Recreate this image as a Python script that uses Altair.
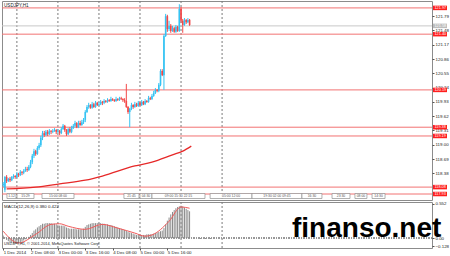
import altair as alt
import pandas as pd

# ---------------- data ----------------
bar_index = list(range(110))
opens = [118.13, 118.02, 118.30, 118.21, 118.26, 118.23, 118.30, 118.32, 118.30, 118.36,
         118.34, 118.41, 118.39, 118.43, 118.47, 118.45, 118.52, 118.62, 118.76, 118.86,
         118.80, 118.93, 118.99, 119.15, 119.25, 119.21, 119.28, 119.23, 119.30, 119.28,
         119.30, 119.32, 119.28, 119.30, 119.25, 119.34, 119.41, 119.32, 119.23, 119.34,
         119.28, 119.36, 119.41, 119.47, 119.38, 119.47, 119.43, 119.49, 119.54, 119.71,
         119.82, 119.86, 119.80, 119.88, 119.82, 119.91, 119.86, 119.88, 119.93, 119.91,
         119.95, 119.93, 119.97, 119.95, 119.99, 119.97, 119.95, 119.99, 119.97, 120.01,
         119.99, 119.97, 119.95, 119.82, 119.71, 119.78, 119.86, 119.82, 119.88, 119.84,
         119.91, 119.86, 119.93, 119.88, 119.95, 119.93, 120.01, 119.99, 120.06, 120.12,
         120.19, 120.17, 120.30, 120.60, 120.51, 121.36, 121.79, 121.51, 121.58, 121.47,
         121.53, 121.45, 121.56, 121.47, 121.95, 121.69, 121.60, 121.71, 121.66, 121.71]
highs = [118.19, 118.32, 118.34, 118.28, 118.30, 118.32, 118.36, 118.34, 118.41, 118.39,
         118.45, 118.43, 118.47, 118.52, 118.52, 118.56, 118.67, 118.80, 118.91, 118.89,
         118.97, 119.04, 119.19, 119.30, 119.30, 119.32, 119.32, 119.34, 119.32, 119.34,
         119.36, 119.34, 119.34, 119.32, 119.38, 119.45, 119.43, 119.34, 119.36, 119.38,
         119.41, 119.45, 119.52, 119.49, 119.52, 119.52, 119.54, 119.58, 119.75, 119.86,
         119.91, 119.88, 119.93, 119.91, 119.95, 119.93, 119.93, 119.97, 119.95, 119.99,
         119.97, 120.01, 119.99, 120.04, 120.01, 119.99, 120.04, 120.01, 120.04, 120.04,
         120.01, 120.01, 120.32, 119.84, 119.80, 119.91, 119.88, 119.93, 119.91, 119.95,
         119.93, 119.97, 119.95, 119.99, 119.97, 120.06, 120.04, 120.10, 120.17, 120.23,
         120.21, 120.34, 120.64, 120.64, 121.40, 121.84, 121.82, 121.69, 121.62, 121.58,
         121.56, 121.60, 121.58, 122.05, 121.99, 121.73, 121.75, 121.73, 121.75, 121.73]
lows = [118.08, 117.97, 118.17, 118.19, 118.19, 118.21, 118.26, 118.26, 118.28, 118.30,
        118.32, 118.34, 118.36, 118.41, 118.41, 118.43, 118.49, 118.58, 118.71, 118.76,
        118.78, 118.89, 118.95, 119.10, 119.17, 119.19, 119.19, 119.21, 119.23, 119.25,
        119.28, 119.23, 119.25, 119.21, 119.23, 119.32, 119.28, 119.19, 119.21, 119.25,
        119.25, 119.34, 119.38, 119.36, 119.36, 119.41, 119.41, 119.45, 119.49, 119.69,
        119.78, 119.78, 119.78, 119.80, 119.80, 119.84, 119.84, 119.86, 119.86, 119.88,
        119.91, 119.91, 119.93, 119.93, 119.95, 119.93, 119.93, 119.95, 119.95, 119.97,
        119.93, 119.91, 119.80, 119.67, 119.38, 119.75, 119.78, 119.80, 119.82, 119.82,
        119.84, 119.84, 119.86, 119.86, 119.91, 119.91, 119.97, 119.97, 120.04, 120.10,
        120.14, 120.14, 120.27, 120.49, 120.19, 121.34, 121.45, 121.47, 121.43, 121.45,
        121.43, 121.43, 121.45, 121.45, 121.64, 121.43, 121.58, 121.62, 121.64, 121.58]
closes = [118.15, 118.30, 118.21, 118.26, 118.23, 118.30, 118.32, 118.30, 118.36, 118.34,
          118.41, 118.39, 118.43, 118.47, 118.45, 118.52, 118.62, 118.76, 118.86, 118.80,
          118.93, 118.99, 119.15, 119.25, 119.21, 119.28, 119.23, 119.30, 119.28, 119.30,
          119.32, 119.28, 119.30, 119.25, 119.34, 119.41, 119.32, 119.23, 119.34, 119.28,
          119.36, 119.41, 119.47, 119.38, 119.47, 119.43, 119.49, 119.54, 119.71, 119.82,
          119.86, 119.80, 119.88, 119.82, 119.91, 119.86, 119.88, 119.93, 119.91, 119.95,
          119.93, 119.97, 119.95, 119.99, 119.97, 119.95, 119.99, 119.97, 120.01, 119.99,
          119.97, 119.95, 119.82, 119.71, 119.78, 119.86, 119.82, 119.88, 119.84, 119.91,
          119.86, 119.93, 119.88, 119.95, 119.93, 120.01, 119.99, 120.06, 120.12, 120.19,
          120.17, 120.30, 120.60, 120.51, 121.36, 121.79, 121.51, 121.58, 121.47, 121.53,
          121.45, 121.56, 121.47, 121.95, 121.69, 121.60, 121.71, 121.66, 121.71, 121.60]

ma_index = [2, 19, 33, 48, 58, 77, 87, 99, 105, 110]
ma_values = [118.04, 118.08, 118.15, 118.23, 118.32, 118.54, 118.62, 118.78, 118.86, 118.97]

red_levels = [121.97, 121.40, 120.19, 119.38, 119.19, 118.08, 117.93]
gray_levels = [121.58]
price_ticks = [121.79, 121.48, 121.17, 120.86, 120.55, 120.24, 119.93, 119.62,
               119.31, 119.00, 118.69, 118.38]

separators = [8, 32, 56, 80, 104, 128]
time_ticks = [0, 16, 32, 48, 64, 80, 96]
time_labels = ["1 Dec 2014", "2 Dec 08:00", "3 Dec 00:00", "3 Dec 16:00",
               "4 Dec 08:00", "5 Dec 00:00", "5 Dec 16:00"]

macd_values = [0.04, 0.01, -0.03, -0.05, -0.07, -0.08, -0.09, -0.09, -0.09, -0.08,
               -0.07, -0.06, -0.04, -0.02, 0.00, 0.02, 0.05, 0.08, 0.12, 0.14,
               0.17, 0.19, 0.21, 0.23, 0.23, 0.24, 0.24, 0.24, 0.24, 0.23,
               0.23, 0.22, 0.21, 0.20, 0.20, 0.20, 0.19, 0.17, 0.16, 0.15,
               0.15, 0.15, 0.15, 0.14, 0.14, 0.14, 0.14, 0.15, 0.18, 0.21,
               0.22, 0.23, 0.24, 0.24, 0.24, 0.24, 0.24, 0.24, 0.23, 0.23,
               0.22, 0.22, 0.21, 0.21, 0.20, 0.19, 0.18, 0.17, 0.16, 0.15,
               0.14, 0.13, 0.12, 0.10, 0.09, 0.08, 0.07, 0.06, 0.05, 0.05,
               0.05, 0.05, 0.05, 0.05, 0.06, 0.06, 0.06, 0.06, 0.07, 0.08,
               0.09, 0.10, 0.11, 0.12, 0.16, 0.22, 0.28, 0.33, 0.38, 0.42,
               0.45, 0.48, 0.50, 0.51, 0.52, 0.51, 0.49, 0.47, 0.45, 0.43]
signal_index = [0, 9, 19, 28, 33, 38, 48, 58, 67, 77, 83, 87, 97, 104, 109]
signal_values = [0.11, -0.08, 0.06, 0.22, 0.23, 0.19, 0.14, 0.22, 0.16, 0.08,
                 0.03, 0.05, 0.27, 0.50, 0.48]
macd_ticks = [0.552, 0.0, -0.128]

box_start = [2.2, 8.1, 22.7, 70.6, 80.0, 87.0, 121.0, 145.5, 174.7, 192.3, 205.7, 215.7]
box_end = [7.5, 18.0, 41.4, 79.4, 87.0, 118.0, 145.5, 174.7, 186.4, 202.8, 212.7, 223.3]
box_text = ["1.12", "15:29", "15:00 08:00", "21:45", "04:30", "09:00 15:30 22:15",
            "05:00 12:00", "19:30 02:00 09:45", "16:30", "23:30", "08:00", "14:30"]

X_DOMAIN = [-0.70, 250.76]
P_DOMAIN = [117.80, 122.12]
M_DOMAIN = [-0.16, 0.58]
FONT = "Liberation Sans"
BULL = "#35C3F3"
BEAR = "#F24848"

candles = pd.DataFrame({"idx": bar_index, "open": opens, "high": highs,
                        "low": lows, "close": closes})
candles["dir"] = ["up" if c >= o else "down" for o, c in zip(opens, closes)]

xs = alt.Scale(domain=X_DOMAIN, nice=False, zero=False)
ps = alt.Scale(domain=P_DOMAIN, nice=False, zero=False)
ms = alt.Scale(domain=M_DOMAIN, nice=False, zero=False)

price_axis = alt.Axis(orient="right", values=price_ticks, format=".2f", labelFontSize=4.4,
                      labelFont=FONT, labelColor="#222222", tickSize=2, tickColor="#555555",
                      labelPadding=1, domain=False, grid=False, title=None)


def PY(field):
    return alt.Y(field, scale=ps, axis=price_axis, title=None)


def X(field="idx:Q"):
    return alt.X(field, scale=xs, axis=None)


color = alt.Color("dir:N", scale=alt.Scale(domain=["up", "down"], range=[BULL, BEAR]),
                  legend=None)

sep_df = pd.DataFrame({"sep": separators})
seps = alt.Chart(sep_df).mark_rule(strokeDash=[2, 2], color="#7a7a7a", strokeWidth=1).encode(
    x=X("sep:Q"))

wicks = alt.Chart(candles).mark_rule(strokeWidth=1).encode(
    x=X(), y=PY("low:Q"), y2="high:Q", color=color)
bodies = alt.Chart(candles).mark_rule(strokeWidth=1.6).encode(
    x=X(), y=PY("open:Q"), y2="close:Q", color=color)

ma_df = pd.DataFrame({"idx": ma_index, "ma": ma_values})
ma_line = alt.Chart(ma_df).mark_line(color="#E62828", strokeWidth=1.3,
                                     interpolate="monotone").encode(x=X(), y=PY("ma:Q"))

lv_df = pd.DataFrame({"level": red_levels, "label": [f"{v:.2f}" for v in red_levels]})
gl_df = pd.DataFrame({"level": gray_levels, "label": [f"{v:.2f}" for v in gray_levels]})
red_lines = alt.Chart(lv_df).mark_rule(color="#F27272", strokeWidth=1).encode(y=PY("level:Q"))
gray_lines = alt.Chart(gl_df).mark_rule(color="#C8C8C8", strokeWidth=1).encode(y=PY("level:Q"))
red_tags = alt.Chart(lv_df).mark_rule(color="#FF1E1E", strokeWidth=4.5).encode(
    y=PY("level:Q"), x=alt.value(431), x2=alt.value(445))
gray_tags = alt.Chart(gl_df).mark_rule(color="#BDBDBD", strokeWidth=4.5).encode(
    y=PY("level:Q"), x=alt.value(431), x2=alt.value(445))
red_tag_text = alt.Chart(lv_df).mark_text(align="left", baseline="middle", fontSize=3.8,
                                          font=FONT, color="white").encode(
    y=PY("level:Q"), x=alt.value(432.5), text="label:N")
gray_tag_text = alt.Chart(gl_df).mark_text(align="left", baseline="middle", fontSize=3.8,
                                           font=FONT, color="white").encode(
    y=PY("level:Q"), x=alt.value(432.5), text="label:N")

box_df = pd.DataFrame({"s": box_start, "e": box_end, "t": box_text})
box_df["m"] = [(a + b) / 2 for a, b in zip(box_start, box_end)]
boxes = alt.Chart(box_df).mark_rect(fill="white", stroke="#8f8f8f", strokeWidth=0.7).encode(
    x=X("s:Q"), x2="e:Q", y=alt.value(192.5), y2=alt.value(197.5))
box_txt = alt.Chart(box_df).mark_text(fontSize=3.4, font=FONT, color="#555555",
                                      baseline="middle").encode(
    x=X("m:Q"), y=alt.value(195), text="t:N")

title_df = pd.DataFrame({"t": ["USDJPY,H1"]})
title_txt = alt.Chart(title_df).mark_text(align="left", baseline="middle", fontSize=4.6,
                                          font=FONT, color="#222222").encode(
    x=alt.value(2), y=alt.value(5), text="t:N")

top = alt.layer(seps, gray_lines, red_lines, ma_line, wicks, bodies, boxes, box_txt,
                red_tags, gray_tags, red_tag_text, gray_tag_text, title_txt).properties(
    width=430, height=199)

# ---------------- MACD panel ----------------
time_expr = " : ".join(f"datum.value == {v} ? '{t}'" for v, t in zip(time_ticks, time_labels)) + " : ''"
x_axis = alt.Axis(values=time_ticks, labelExpr=time_expr, labelAlign="left", labelFontSize=4.4,
                  labelFont=FONT, labelColor="#222222", tickSize=2, tickColor="#555555",
                  labelPadding=0, domain=False, grid=False, title=None, labelFlush=False,
                  labelOverlap=False, labelBound=False)
macd_axis = alt.Axis(orient="right", values=macd_ticks,
                     labelExpr="datum.value == 0 ? '0.00' : format(datum.value, '.3f')",
                     labelFontSize=4.4, labelFont=FONT, labelColor="#222222", tickSize=2,
                     tickColor="#555555", labelPadding=1, domain=False, grid=False, title=None)


def MY(field):
    return alt.Y(field, scale=ms, axis=macd_axis, title=None)


mdf = pd.DataFrame({"idx": bar_index, "macd": macd_values, "zero": [0.0] * len(bar_index)})
sdf = pd.DataFrame({"idx": signal_index, "sig": signal_values})

seps_b = alt.Chart(sep_df).mark_rule(strokeDash=[2, 2], color="#7a7a7a", strokeWidth=1).encode(
    x=alt.X("sep:Q", scale=xs, axis=x_axis))
zero_line = alt.Chart(mdf).mark_rule(strokeDash=[1, 1.5], color="#9a9a9a", strokeWidth=1).encode(
    y=MY("zero:Q"))
hist = alt.Chart(mdf).mark_rule(color="#8a8a8a", strokeWidth=1).encode(
    x=alt.X("idx:Q", scale=xs, axis=x_axis), y=MY("macd:Q"), y2="zero:Q")
sig = alt.Chart(sdf).mark_line(color="#F05A5A", strokeWidth=1, interpolate="monotone").encode(
    x=alt.X("idx:Q", scale=xs, axis=x_axis), y=MY("sig:Q"))

lab_df = pd.DataFrame({"t": ["MACD(12,26,9) 0.380 0.422"]})
macd_lab = alt.Chart(lab_df).mark_text(align="left", baseline="middle", fontSize=4.4,
                                       font=FONT, color="#222222").encode(
    x=alt.value(2), y=alt.value(4.5), text="t:N")
copy_df = pd.DataFrame({"t": ["USDJPY,H1, \u00a9 2001-2014, MetaQuotes Software Corp."]})
copy_lab = alt.Chart(copy_df).mark_text(align="left", baseline="middle", fontSize=3.9,
                                        font=FONT, color="#222222").encode(
    x=alt.value(2), y=alt.value(42), text="t:N")
wm_df = pd.DataFrame({"t": ["finanso.net"]})
watermark = alt.Chart(wm_df).mark_text(align="left", baseline="alphabetic", fontSize=28,
                                       font=FONT, fontWeight="bold", color="black").encode(
    x=alt.value(290), y=alt.value(35), text="t:N")

bottom = alt.layer(seps_b, zero_line, hist, sig, macd_lab, copy_lab, watermark).properties(
    width=430, height=46)

chart = alt.vconcat(top, bottom, spacing=2, bounds="flush").properties(
    padding=0, background="white"
).configure_view(stroke="#8c8c8c", strokeWidth=1)

chart.save("out.html", embed_options={"renderer": "svg", "actions": False})
